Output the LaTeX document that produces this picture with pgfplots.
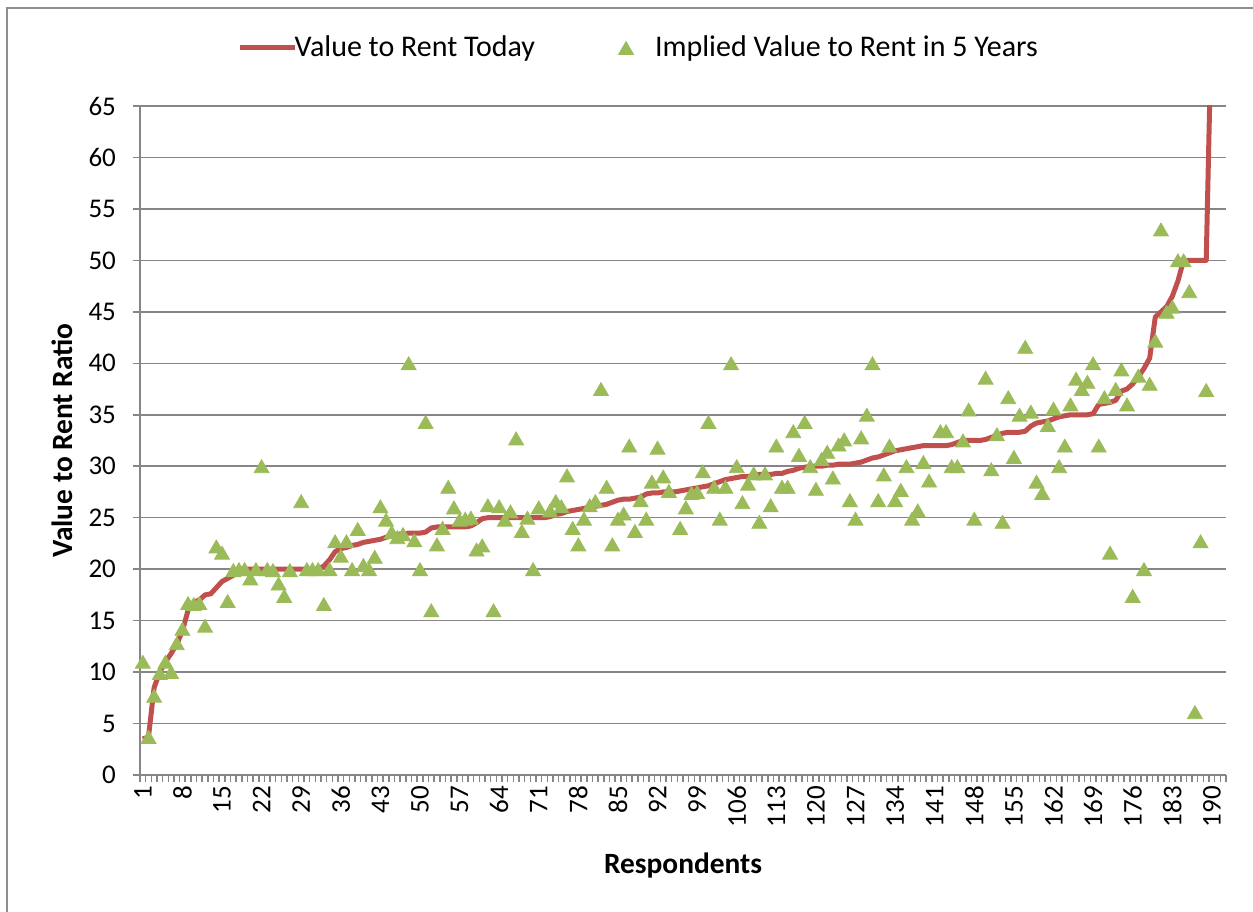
\documentclass[border=0pt]{standalone}
\usepackage{fontspec}
\setmainfont{Carlito}
\usepackage{pgfplots}
\usepackage{pgfplotstable}
\pgfplotsset{compat=1.18}
\definecolor{exred}{HTML}{C0504D}
\definecolor{exgreen}{HTML}{9BBB59}
\definecolor{exgrid}{HTML}{868686}
\definecolor{exborder}{HTML}{8E8E8E}

\pgfplotstableread{
i v
1 3.5
2 3.7
3 8.5
4 10.0
5 11.0
6 11.8
7 12.7
8 14.0
9 16.0
10 16.8
11 17.0
12 17.5
13 17.6
14 18.2
15 18.8
16 19.1
17 19.4
18 20.0
19 20.0
20 20.0
21 20.0
22 20.0
23 20.0
24 20.0
25 20.0
26 20.0
27 20.0
28 20.0
29 20.0
30 20.0
31 20.0
32 20.0
33 20.3
34 20.9
35 21.7
36 22.0
37 22.1
38 22.3
39 22.4
40 22.6
41 22.7
42 22.8
43 22.9
44 23.1
45 23.2
46 23.4
47 23.4
48 23.5
49 23.5
50 23.5
51 23.6
52 24.0
53 24.1
54 24.1
55 24.1
56 24.1
57 24.1
58 24.1
59 24.2
60 24.5
61 24.9
62 25.0
63 25.0
64 25.0
65 25.0
66 25.0
67 25.0
68 25.0
69 25.0
70 25.0
71 25.0
72 25.0
73 25.1
74 25.3
75 25.4
76 25.6
77 25.7
78 25.8
79 25.9
80 26.0
81 26.1
82 26.2
83 26.3
84 26.5
85 26.7
86 26.8
87 26.8
88 26.9
89 27.0
90 27.3
91 27.4
92 27.4
93 27.5
94 27.5
95 27.5
96 27.6
97 27.7
98 27.8
99 27.9
100 28.0
101 28.1
102 28.3
103 28.5
104 28.7
105 28.8
106 28.9
107 29.0
108 29.0
109 29.1
110 29.2
111 29.2
112 29.2
113 29.3
114 29.3
115 29.5
116 29.6
117 29.8
118 29.9
119 30.0
120 30.0
121 30.0
122 30.1
123 30.1
124 30.2
125 30.2
126 30.2
127 30.3
128 30.4
129 30.6
130 30.8
131 30.9
132 31.1
133 31.3
134 31.5
135 31.6
136 31.7
137 31.8
138 31.9
139 32.0
140 32.0
141 32.0
142 32.0
143 32.0
144 32.1
145 32.3
146 32.5
147 32.5
148 32.5
149 32.5
150 32.6
151 32.8
152 33.0
153 33.2
154 33.3
155 33.3
156 33.3
157 33.4
158 33.9
159 34.2
160 34.3
161 34.4
162 34.6
163 34.8
164 34.9
165 35.0
166 35.0
167 35.0
168 35.0
169 35.1
170 36.0
171 36.1
172 36.2
173 36.4
174 37.3
175 37.5
176 38.0
177 38.7
178 39.5
179 40.5
180 44.5
181 45.0
182 45.5
183 46.5
184 48.0
185 50.0
186 50.0
187 50.0
188 50.0
189 50.0
190 75.0
}\todaytable

\pgfplotstableread{
i v
1 11.0
2 3.7
3 7.7
4 9.9
5 11.0
6 10.0
7 12.8
8 14.2
9 16.7
10 16.6
11 16.7
12 14.5
14 22.2
15 21.6
16 16.9
17 19.9
18 20.0
19 20.0
20 19.1
21 20.0
22 30.0
23 20.0
24 19.9
25 18.6
26 17.4
27 19.9
29 26.6
30 20.0
31 20.0
32 20.0
33 16.6
34 20.0
35 22.7
36 21.3
37 22.7
38 20.0
39 23.9
40 20.4
41 20.0
42 21.2
43 26.1
44 24.8
45 23.6
46 23.1
47 23.4
48 40.0
49 22.8
50 20.0
51 34.3
52 16.0
53 22.4
54 24.0
55 28.0
56 26.0
57 24.8
58 24.9
59 25.0
60 21.9
61 22.3
62 26.2
63 16.0
64 26.1
65 24.8
66 25.6
67 32.7
68 23.7
69 25.0
70 20.0
71 26.0
73 25.7
74 26.6
75 26.1
76 29.1
77 24.0
78 22.4
79 24.9
80 26.2
81 26.6
82 37.5
83 28.0
84 22.4
85 24.9
86 25.4
87 32.0
88 23.7
89 26.7
90 24.9
91 28.5
92 31.8
93 29.0
94 27.6
96 24.0
97 26.0
98 27.4
99 27.5
100 29.5
101 34.3
102 28.0
103 24.9
104 28.0
105 40.0
106 30.0
107 26.5
108 28.3
109 29.3
110 24.6
111 29.3
112 26.2
113 32.0
114 28.0
115 28.0
116 33.4
117 31.1
118 34.3
119 30.0
120 27.8
121 30.7
122 31.4
123 28.9
124 32.1
125 32.6
126 26.7
127 24.9
128 32.8
129 35.0
130 40.0
131 26.7
132 29.2
133 32.0
134 26.7
135 27.7
136 30.0
137 24.9
138 25.7
139 30.4
140 28.6
142 33.4
143 33.4
144 30.0
145 30.0
146 32.5
147 35.5
148 24.9
150 38.6
151 29.7
152 33.1
153 24.6
154 36.7
155 30.9
156 35.0
157 41.6
158 35.3
159 28.5
160 27.4
161 34.0
162 35.6
163 30.0
164 32.0
165 36.0
166 38.5
167 37.5
168 38.2
169 40.0
170 32.0
171 36.7
172 21.6
173 37.5
174 39.4
175 36.0
176 17.4
177 38.8
178 20.0
179 38.0
180 42.2
181 53.0
182 45.0
183 45.5
184 50.0
185 50.0
186 47.0
187 6.1
188 22.7
189 37.4
}\fiveyeartable

\begin{document}
\begin{tikzpicture}[font=\fontsize{13.5}{16}\selectfont]
\begin{axis}[
  scale only axis,
  width=543pt, height=334.5pt,
  xmin=0.5, xmax=192.5, ymin=0, ymax=65,
  axis x line*=bottom, axis y line*=left,
  axis line style={exgrid, line width=0.75pt, -},
  ytick={0,5,...,65},
  ymajorgrids,
  grid style={exgrid, line width=0.75pt},
  tick align=outside,
  major tick length=3.5pt,
  tick style={exgrid, line width=0.75pt},
  xtick={0.5,1.5,...,192.5},
  xticklabels={},
  extra x ticks={1,8,...,190},
  extra x tick labels={1,8,15,22,29,36,43,50,57,64,71,78,85,92,99,106,113,120,127,134,141,148,155,162,169,176,183,190},
  extra x tick style={grid=none, major tick length=0pt, xticklabel style={rotate=90, anchor=east, xshift=-2pt}},
  /pgf/number format/assume math mode=true,
  yticklabel style={xshift=-5pt},
  xlabel={\bfseries Respondents},
  ylabel={\bfseries Value to Rent Ratio},
  every axis x label/.style={at={(rel axis cs:0.5,-0.136)}, anchor=center, font=\fontsize{14.7}{17}\selectfont},
  every axis y label/.style={at={(rel axis cs:-0.0718,0.5)}, anchor=center, rotate=90, font=\fontsize{14.7}{17}\selectfont},
  legend style={at={(rel axis cs:0.4602,1.0867)}, anchor=center, draw=none, fill=none,
    legend columns=2, /tikz/every even column/.append style={column sep=39.5pt},
    font=\fontsize{15}{18}\selectfont},
  legend cell align=left,
]
\addplot[exred, line width=2.5pt, line join=round, no marks,
  legend image code/.code={\draw[exred, line width=2.5pt] (0pt,0pt) -- (24pt,0pt);
    \draw[overlay, exred, line width=2.5pt] (23pt,0pt) -- (27.5pt,0pt);}]
  table[x=i, y=v] {\todaytable};
\addlegendentry{Value to Rent Today}
\addplot[only marks, mark=triangle*, mark size=4.3pt,
  mark options={fill=exgreen, draw=exgreen, yshift=-1.08pt},
  legend image code/.code={\path[draw=none, fill=none] (0pt,-2pt) rectangle (16.5pt,2pt);
    \draw[mark=triangle*, mark size=4.3pt, mark options={fill=exgreen, draw=exgreen}] plot coordinates {(4pt,-1.08pt)};}]
  table[x=i, y=v] {\fiveyeartable};
\addlegendentry{Implied Value to Rent in 5 Years}
\coordinate (BL) at (rel axis cs:-0.12891,-0.20478);
\coordinate (TR) at (rel axis cs:1.02486,1.15845);
\coordinate (BTL) at (rel axis cs:-0.12247,1.1472);
\coordinate (BBL) at (rel axis cs:-0.12247,-0.20478);
\coordinate (BTR) at (rel axis cs:1.02486,1.1472);
\end{axis}
\path[use as bounding box] (BL) rectangle (TR);
\draw[exborder, line width=1pt] (BBL) -- (BTL) -- (BTR);
\end{tikzpicture}
\end{document}
